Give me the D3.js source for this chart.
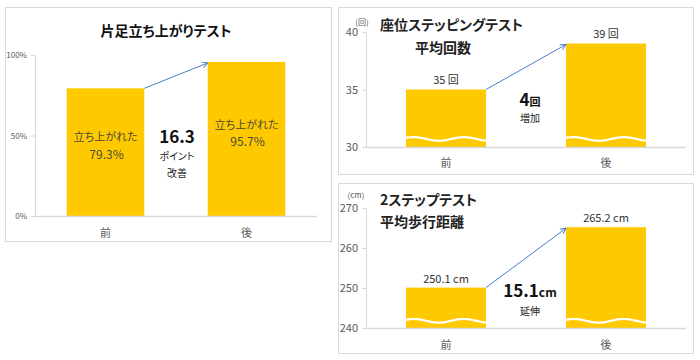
<!DOCTYPE html>
<html><head><meta charset="utf-8">
<script src="https://cdn.jsdelivr.net/npm/d3@7"></script>
<style>body{margin:0;background:#fff}svg{display:block}text{font-family:"Noto Sans CJK JP","Noto Sans",sans-serif;font-feature-settings:"palt" 1}</style>
</head><body><svg id="c" width="700" height="360"></svg>
<script>
const categories = ["前", "後"];
// Panel 1: 片足立ち上がりテスト
const standValues = [0.793, 0.957];
const standTicks = [0, 0.5, 1];
const standLabels = ["79.3%", "95.7%"];
// Panel 2: 座位ステッピングテスト
const stepValues = [35, 39];
const stepTicks = [30, 35, 40];
const stepLabels = ["35 回", "39 回"];
// Panel 3: 2ステップテスト
const twoStepValues = [250.1, 265.2];
const twoStepTicks = [240, 250, 260, 270];
const twoStepLabels = ["250.1 cm", "265.2 cm"];

const svg = d3.select("#c");
const BAR = "#ffc900", AX = "#d9d9d9", TXT = "#595959", ARROW = "#4a7cc4";

svg.append("defs").append("marker").attr("id","ah").attr("viewBox","0 0 10 10")
  .attr("refX",9).attr("refY",5).attr("markerWidth",7).attr("markerHeight",7)
  .attr("orient","auto").attr("markerUnits","userSpaceOnUse")
  .append("path").attr("d","M1,1 L9,5 L1,9").attr("fill","none").attr("stroke",ARROW).attr("stroke-width",1.3);

function frame(x,y,w,h){
  svg.append("rect").attr("x",x+0.5).attr("y",y+0.5).attr("width",w).attr("height",h)
    .attr("fill","#fff").attr("stroke",AX).attr("stroke-width",1);
}

function panel(o){
  const x = d3.scaleBand().domain(categories).range([o.x0,o.x1]).paddingInner(o.pi).paddingOuter(o.po);
  const y = d3.scaleLinear().domain(o.domain).range([o.y0,o.y1]);
  const g = svg.append("g");
  const ya = g.append("g").attr("transform",`translate(${o.x0},0)`)
    .call(d3.axisLeft(y).tickValues(o.ticks).tickFormat(o.fmt).tickSize(4).tickSizeOuter(0));
  ya.select(".domain").attr("stroke",AX);
  ya.selectAll(".tick line").attr("stroke",AX);
  ya.selectAll(".tick text").attr("fill",TXT).attr("font-size",o.tickFs).attr("dx",-1);
  g.selectAll("rect.bar").data(o.values).join("rect").attr("class","bar")
    .attr("x",(d,i)=>x(categories[i])).attr("width",x.bandwidth())
    .attr("y",d=>y(d)).attr("height",d=>y(o.domain[0])-y(d)).attr("fill",BAR);
  g.append("line").attr("x1",o.x0).attr("x2",o.x1).attr("y1",y(o.domain[0])+0.5).attr("y2",y(o.domain[0])+0.5)
    .attr("stroke",AX).attr("stroke-width",1.5);
  g.selectAll("text.cat").data(categories).join("text").attr("class","cat")
    .attr("x",d=>x(d)+x.bandwidth()/2).attr("y",o.catY).attr("text-anchor","middle")
    .attr("fill",TXT).attr("font-size",11).text(d=>d);
  if(o.wave!==undefined){
    const wy = y(o.wave);
    categories.forEach(c=>{
      const bx = x(c), bw = x.bandwidth();
      const pts = d3.range(0,61).map(k=>{const t=k/60;return [bx+t*bw, wy-1.8*Math.sin(t*Math.PI*3.2+0.6)];});
      g.append("path").attr("d",d3.line()(pts)).attr("fill","none").attr("stroke","#fff").attr("stroke-width",2.2);
    });
  }
  g.append("line").attr("x1",x(categories[0])+x.bandwidth()).attr("y1",y(o.values[0]))
    .attr("x2",x(categories[1])).attr("y2",y(o.values[1])+1)
    .attr("stroke",ARROW).attr("stroke-width",1).attr("marker-end","url(#ah)");
  return {x,y,g};
}

// Panel 1
frame(5,7,326,234);
const p1 = panel({x0:35,x1:317,y0:216,y1:55,domain:[0,1],ticks:standTicks,fmt:d3.format(".0%"),
  tickFs:8,values:standValues,pi:0.45,po:0.225,catY:237});
svg.append("text").attr("x",166).attr("y",36).attr("text-anchor","middle").attr("font-size",14)
  .attr("font-weight","bold").attr("fill","#111").text("片足立ち上がりテスト");
[[0,137,154],[1,125,141]].forEach(([i,ya,yb])=>{
  const cx = p1.x(categories[i])+p1.x.bandwidth()/2;
  p1.g.append("text").attr("x",cx).attr("y",ya+4).attr("text-anchor","middle").attr("font-size",11).attr("fill","#4a4a3a").text("立ち上がれた");
  p1.g.append("text").attr("x",cx+1).attr("y",yb+5).attr("text-anchor","middle").attr("font-size",12).attr("fill","#4a4a3a").text(standLabels[i]);
});
svg.append("text").attr("x",177).attr("y",143).attr("text-anchor","middle").attr("font-size",17).attr("font-weight","bold").attr("fill","#111").text("16.3");
svg.append("text").attr("x",177).attr("y",160).attr("text-anchor","middle").attr("font-size",10).attr("fill","#222").text("ポイント");
svg.append("text").attr("x",177).attr("y",177).attr("text-anchor","middle").attr("font-size",10).attr("fill","#222").text("改善");

// Panel 2
frame(338,7,355,167);
const p2 = panel({x0:366,x1:686,y0:147,y1:32,domain:[30,40],ticks:stepTicks,fmt:d3.format("d"),
  tickFs:11,values:stepValues,pi:0.5,po:0.25,catY:167,wave:30.7});
svg.append("text").attr("x",362).attr("y",25).attr("text-anchor","middle").attr("font-size",8).attr("fill",TXT).text("(回)");
svg.append("text").attr("x",380).attr("y",30).attr("font-size",14).attr("font-weight","bold").attr("fill","#222").text("座位ステッピングテスト");
svg.append("text").attr("x",415).attr("y",53).attr("font-size",14).attr("font-weight","bold").attr("fill","#222").text("平均回数");
stepLabels.forEach((t,i)=>{
  p2.g.append("text").attr("x",p2.x(categories[i])+p2.x.bandwidth()/2).attr("y",p2.y(stepValues[i])-6)
    .attr("text-anchor","middle").attr("font-size",11).attr("fill","#333").text(t);
});
const t4 = svg.append("text").attr("x",530).attr("y",106).attr("text-anchor","middle").attr("fill","#111").attr("font-weight","bold");
t4.append("tspan").attr("font-size",17).text("4");
t4.append("tspan").attr("font-size",11).text("回");
svg.append("text").attr("x",530).attr("y",122).attr("text-anchor","middle").attr("font-size",10).attr("fill","#222").text("増加");

// Panel 3
frame(338,183,355,170);
const p3 = panel({x0:366,x1:686,y0:328,y1:208,domain:[240,270],ticks:twoStepTicks,fmt:d3.format("d"),
  tickFs:11,values:twoStepValues,pi:0.5,po:0.25,catY:349,wave:241.8});
svg.append("text").attr("x",356).attr("y",198).attr("text-anchor","middle").attr("font-size",8).attr("fill",TXT).text("(cm)");
svg.append("text").attr("x",380).attr("y",205).attr("font-size",14).attr("font-weight","bold").attr("fill","#222").text("2ステップテスト");
svg.append("text").attr("x",380).attr("y",227).attr("font-size",14).attr("font-weight","bold").attr("fill","#222").text("平均歩行距離");
twoStepLabels.forEach((t,i)=>{
  p3.g.append("text").attr("x",p3.x(categories[i])+p3.x.bandwidth()/2).attr("y",p3.y(twoStepValues[i])-5)
    .attr("text-anchor","middle").attr("font-size",11).attr("fill","#333").text(t);
});
const t15 = svg.append("text").attr("x",530).attr("y",297).attr("text-anchor","middle").attr("fill","#111").attr("font-weight","bold");
t15.append("tspan").attr("font-size",17).text("15.1");
t15.append("tspan").attr("font-size",12).text("cm");
svg.append("text").attr("x",530).attr("y",315).attr("text-anchor","middle").attr("font-size",10).attr("fill","#222").text("延伸");
</script></body></html>
